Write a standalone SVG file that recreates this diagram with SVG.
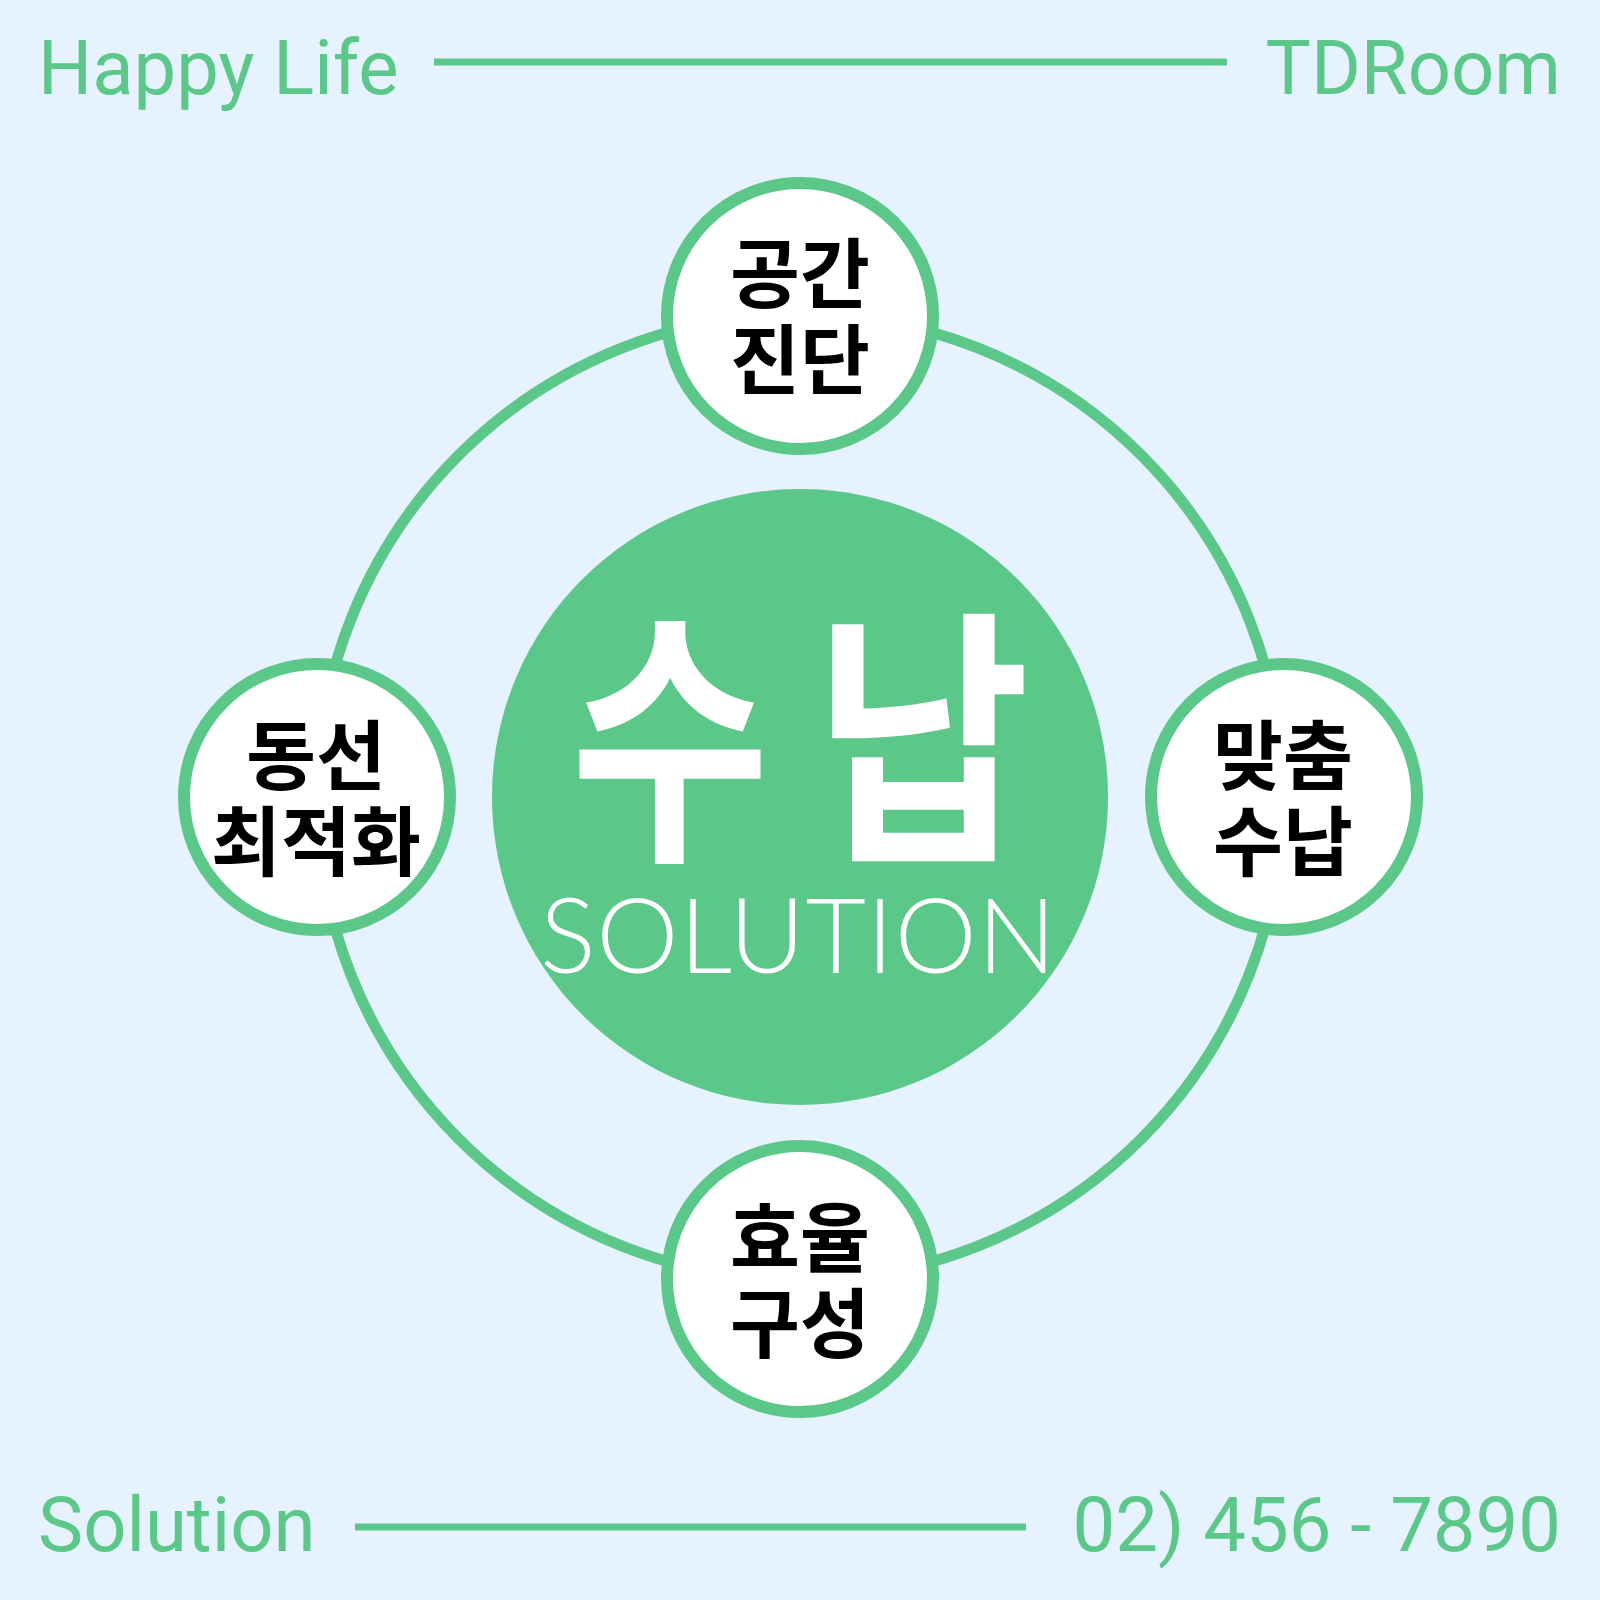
<svg xmlns="http://www.w3.org/2000/svg" width="1600" height="1600" viewBox="0 0 1600 1600">
<style>
.hdr{font-family:Roboto,"Liberation Sans",sans-serif;font-size:76px;fill:#5BC88A}
.rule{stroke:#5BC88A;stroke-width:7}
.node{fill:#FFFFFF;stroke:#5BC88A;stroke-width:12}
.lbl{font-family:"Noto Sans CJK KR","Noto Sans",sans-serif;font-weight:700;font-size:76px;fill:#000;text-anchor:middle}
.big{font-family:"Noto Sans CJK KR",sans-serif;font-weight:700;font-size:270px;fill:#FFFFFF;text-anchor:middle}
</style>
<rect width="1600" height="1600" fill="#E6F2FD"/>
<g id="header">
<text class="hdr" x="38" y="94">Happy Life</text>
<line class="rule" x1="434" y1="62" x2="1227" y2="62"/>
<text class="hdr" x="1561" y="94" text-anchor="end">TDRoom</text>
</g>
<g id="footer">
<text class="hdr" x="38" y="1551">Solution</text>
<line class="rule" x1="355" y1="1527" x2="1026" y2="1527"/>
<text class="hdr" x="1561" y="1551" text-anchor="end">02) 456 - 7890</text>
</g>
<g id="connectors">
<circle cx="800" cy="797" r="483" fill="none" stroke="#5BC88A" stroke-width="11"/>
</g>
<g id="center">
<circle cx="800" cy="797" r="308" fill="#5BC88A"/>
<text class="big" transform="translate(670,840) scale(0.8,1)" x="0" y="0">수</text>
<text class="big" transform="translate(922,840) scale(0.87,1)" x="0" y="0">납</text>
<text x="540" y="973" textLength="516" lengthAdjust="spacing" font-family="Lato,'Open Sans',sans-serif" font-weight="300" font-size="104" fill="#FFFFFF">SOLUTION</text>
</g>
<g id="node-top">
<circle class="node" cx="800" cy="316" r="133"/>
<text class="lbl" x="800" y="302">공간<tspan x="800" dy="86">진단</tspan></text>
</g>
<g id="node-left">
<circle class="node" cx="317" cy="797" r="133"/>
<text class="lbl" x="316" y="784">동선<tspan x="316" dy="86">최적화</tspan></text>
</g>
<g id="node-right">
<circle class="node" cx="1284" cy="797" r="133"/>
<text class="lbl" x="1283" y="784">맞춤<tspan x="1283" dy="86">수납</tspan></text>
</g>
<g id="node-bottom">
<circle class="node" cx="800" cy="1279" r="133"/>
<text class="lbl" x="800" y="1266">효율<tspan x="800" dy="86">구성</tspan></text>
</g>
</svg>
